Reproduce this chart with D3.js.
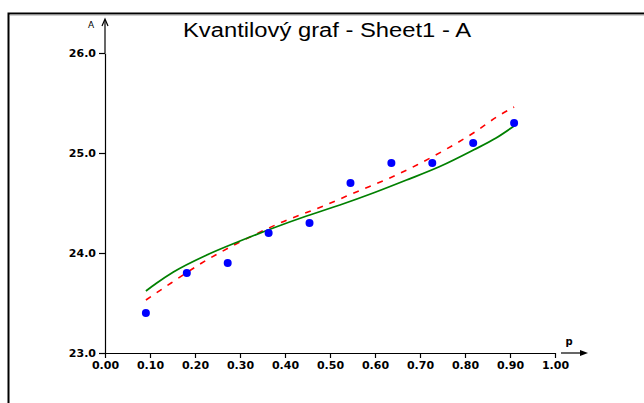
<!DOCTYPE html>
<html>
<head>
<meta charset="utf-8">
<script src="https://cdn.jsdelivr.net/npm/d3@7"></script>
<style>
  html, body { margin: 0; padding: 0; background: #fff; }
  svg { display: block; }
</style>
</head>
<body>
<svg id="chart" width="644" height="403"></svg>
<script>
// Plotting positions p and sorted sample values of column A
const pPoints = [0.0909, 0.1818, 0.2727, 0.3636, 0.4545, 0.5455, 0.6364, 0.7273, 0.8182, 0.9091];
const aValues = [23.4, 23.8, 23.9, 24.2, 24.3, 24.7, 24.9, 24.9, 25.1, 25.3];

// Fitted normal quantile curve (solid green)
const normalP = [0.0909, 0.115, 0.152, 0.226, 0.300, 0.374, 0.448, 0.522, 0.596, 0.670, 0.744, 0.8185, 0.869, 0.9091];
const normalQ = [23.62, 23.70, 23.81, 23.98, 24.12, 24.25, 24.37, 24.48, 24.60, 24.73, 24.865, 25.03, 25.15, 25.27];

// Empirical quantile curve (dashed red)
const empP = [0.0909, 0.147, 0.215, 0.300, 0.389, 0.485, 0.574, 0.633, 0.693, 0.759, 0.8185, 0.874, 0.9091];
const empQ = [23.53, 23.70, 23.90, 24.11, 24.30, 24.47, 24.64, 24.75, 24.88, 25.04, 25.20, 25.37, 25.46];

// Axis ticks
const xTicks = [0, 0.1, 0.2, 0.3, 0.4, 0.5, 0.6, 0.7, 0.8, 0.9, 1.0];
const yTicks = [23, 24, 25, 26];

const titleText = "Kvantilový graf - Sheet1 - A";
const xLabel = "p";
const yLabel = "A";

const svg = d3.select("#chart");

const x = d3.scaleLinear().domain([0, 1]).range([105, 555]);
const y = d3.scaleLinear().domain([23, 26]).range([353, 53]);

// Frame around the plot window
svg.append("rect")
  .attr("x", 8.5).attr("y", 13.5)
  .attr("width", 700).attr("height", 500)
  .attr("fill", "none").attr("stroke", "#000").attr("stroke-width", 2);
svg.append("line")
  .attr("x1", 10).attr("x2", 644).attr("y1", 15).attr("y2", 15)
  .attr("stroke", "#a0a0a0").attr("stroke-width", 1);

// Title
svg.append("text")
  .attr("x", 327).attr("y", 37)
  .attr("text-anchor", "middle")
  .attr("font-family", "Liberation Sans, Arial, sans-serif")
  .attr("font-size", 20)
  .attr("textLength", 288)
  .attr("lengthAdjust", "spacingAndGlyphs")
  .attr("fill", "#000")
  .text(titleText);

const tickFont = "DejaVu Sans, sans-serif";

// X axis
const xAxis = d3.axisBottom(x)
  .tickValues(xTicks)
  .tickFormat(d3.format(".2f"))
  .tickSize(5)
  .tickSizeOuter(0)
  .tickPadding(3);
const gx = svg.append("g").attr("transform", `translate(0,${y(23)})`).call(xAxis);
gx.select(".domain").attr("stroke", "#000").attr("stroke-width", 1.2);
gx.selectAll(".tick line").attr("stroke", "#000").attr("stroke-width", 1.2);
gx.selectAll(".tick text")
  .attr("font-family", tickFont).attr("font-size", 11).attr("font-weight", "bold")
  .attr("fill", "#000");

// Y axis
const yAxis = d3.axisLeft(y)
  .tickValues(yTicks)
  .tickFormat(d3.format(".1f"))
  .tickSize(6)
  .tickSizeOuter(0)
  .tickPadding(3);
const gy = svg.append("g").attr("transform", `translate(${x(0)},0)`).call(yAxis);
gy.select(".domain").attr("stroke", "#000").attr("stroke-width", 1.2);
gy.selectAll(".tick line").attr("stroke", "#000").attr("stroke-width", 1.2);
gy.selectAll(".tick text")
  .attr("font-family", tickFont).attr("font-size", 11).attr("font-weight", "bold")
  .attr("fill", "#000");

// Y axis arrow continuing above the top tick
svg.append("line")
  .attr("x1", x(0)).attr("x2", x(0))
  .attr("y1", y(26)).attr("y2", 20)
  .attr("stroke", "#000").attr("stroke-width", 1.2);
svg.append("path")
  .attr("d", `M${x(0) - 3},${26} L${x(0)},${19} L${x(0) + 3},${26}`)
  .attr("fill", "none").attr("stroke", "#000").attr("stroke-width", 1.2);
svg.append("text")
  .attr("x", 91).attr("y", 28)
  .attr("text-anchor", "middle")
  .attr("font-family", tickFont).attr("font-size", 9)
  .text(yLabel);

// X axis arrow to the right of 1.00
const ax0 = x(1) + 6, ax1 = x(1) + 33;
svg.append("line")
  .attr("x1", ax0).attr("x2", ax1 - 6)
  .attr("y1", y(23)).attr("y2", y(23))
  .attr("stroke", "#000").attr("stroke-width", 1.2);
svg.append("path")
  .attr("d", `M${ax1 - 8},${y(23) - 3} L${ax1},${y(23)} L${ax1 - 8},${y(23) + 3} Z`)
  .attr("fill", "#000");
svg.append("text")
  .attr("x", 569).attr("y", 345)
  .attr("text-anchor", "middle")
  .attr("font-family", tickFont).attr("font-size", 10).attr("font-weight", "bold")
  .text(xLabel);

// Curves
const lineGen = d3.line().curve(d3.curveMonotoneX).x(d => x(d[0])).y(d => y(d[1]));

svg.append("path")
  .datum(d3.zip(empP, empQ))
  .attr("d", lineGen)
  .attr("fill", "none")
  .attr("stroke", "#ff0000")
  .attr("stroke-width", 1.6)
  .attr("stroke-dasharray", "6,7");

svg.append("path")
  .datum(d3.zip(normalP, normalQ))
  .attr("d", lineGen)
  .attr("fill", "none")
  .attr("stroke", "#008000")
  .attr("stroke-width", 1.8);

// Sample points
svg.append("g").selectAll("circle")
  .data(d3.zip(pPoints, aValues))
  .join("circle")
  .attr("cx", d => x(d[0]))
  .attr("cy", d => y(d[1]))
  .attr("r", 4)
  .attr("fill", "#0000ff");
</script>
</body>
</html>
